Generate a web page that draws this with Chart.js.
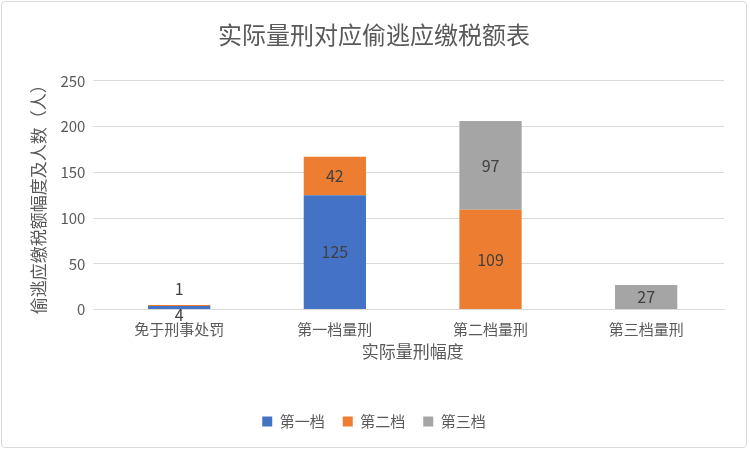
<!DOCTYPE html>
<html><head><meta charset="utf-8">
<script src="https://cdn.jsdelivr.net/npm/chart.js@4"></script>
<style>body{margin:0;background:#fff}#w{position:absolute;left:1px;top:1px;width:746px;height:447px;border:1px solid #d9d9d9;border-radius:4px;box-sizing:border-box}</style>
</head><body><div id="w"><canvas id="c"></canvas></div>
<script>
const categories=["免于刑事处罚","第一档量刑","第二档量刑","第三档量刑"];
const tier1=[4,125,0,0];
const tier2=[1,42,109,0];
const tier3=[0,0,97,27];
const F='"Noto Sans CJK SC", sans-serif';
const labelPlugin={id:'lbl',afterDatasetsDraw(ch){const ctx=ch.ctx;ctx.save();ctx.font='16px '+F;ctx.fillStyle='#404040';ctx.textAlign='center';ctx.textBaseline='middle';
ch.data.datasets.forEach((ds,i)=>{ch.getDatasetMeta(i).data.forEach((b,j)=>{const v=ds.data[j];if(!v)return;let y=(b.y+b.base)/2;
if(j===0){y=i===0?b.base+6:b.y-16;}
ctx.fillText(v,b.x,y);});});ctx.restore();}};
new Chart(document.getElementById('c'),{type:'bar',
data:{labels:categories,datasets:[
{label:'第一档',data:tier1,backgroundColor:'#4472c4'},
{label:'第二档',data:tier2,backgroundColor:'#ed7d31'},
{label:'第三档',data:tier3,backgroundColor:'#a5a5a5'}]},
options:{responsive:true,maintainAspectRatio:false,animation:false,
layout:{padding:{left:22,right:22,top:10,bottom:8}},
datasets:{bar:{categoryPercentage:0.4,barPercentage:1}},
plugins:{title:{display:true,text:'实际量刑对应偷逃应缴税额表',font:{family:F,size:24,weight:'normal'},color:'#595959',padding:{top:8,bottom:32}},
legend:{position:'bottom',labels:{boxWidth:10,boxHeight:10,font:{family:F,size:15},color:'#595959',padding:18}},tooltip:{enabled:false}},
scales:{x:{stacked:true,grid:{display:false},border:{color:'#d9d9d9'},ticks:{font:{family:F,size:15},color:'#595959'},
title:{display:true,text:'实际量刑幅度',font:{family:F,size:17},color:'#595959',padding:{top:0,bottom:34}}},
y:{stacked:true,min:0,max:250,ticks:{stepSize:50,font:{family:F,size:15},color:'#595959',padding:8},grid:{color:'#d9d9d9'},border:{display:false},
title:{display:true,text:'偷逃应缴税额幅度及人数（人）',font:{family:F,size:17},color:'#595959'}}}},
plugins:[labelPlugin]});
</script></body></html>
